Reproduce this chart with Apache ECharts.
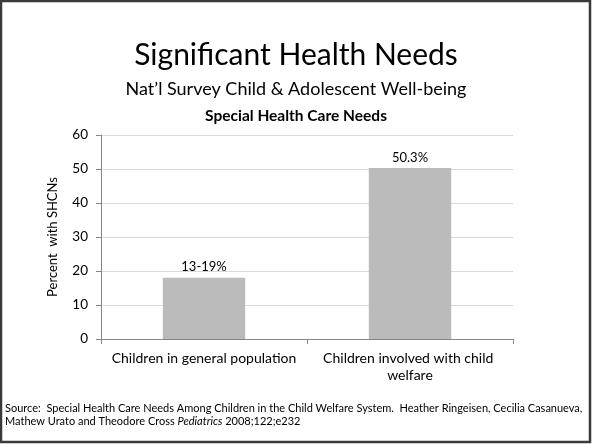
<!DOCTYPE html>
<html>
<head>
<meta charset="utf-8">
<script src="https://cdn.jsdelivr.net/npm/echarts@6/dist/echarts.min.js"></script>
<style>
html,body{margin:0;padding:0;background:#fff;}
#c{width:592px;height:444px;}
</style>
</head>
<body>
<div id="c"></div>
<script>
const categories = ["Children in general population", "Children involved with child welfare"];
const values = [18, 50.3];
const valueLabels = ["13-19%", "50.3%"];
const yTicks = { min: 0, max: 60, interval: 10 };

const FONT = "Lato";
const chart = echarts.init(document.getElementById('c'), null, { renderer: 'canvas' });
chart.setOption({
  animation: false,
  backgroundColor: '#ffffff',
  textStyle: { fontFamily: FONT, color: '#000' },
  title: [
    { text: 'Significant Health Needs', left: 'center', top: 35,
      textStyle: { fontFamily: FONT, fontSize: 30, fontWeight: 'normal', color: '#000' } },
    { text: 'Nat\u2019l Survey Child & Adolescent Well-being', left: 'center', top: 75,
      textStyle: { fontFamily: FONT, fontSize: 18, fontWeight: 'normal', color: '#000' } },
    { text: 'Special Health Care Needs', left: 'center', top: 103,
      textStyle: { fontFamily: FONT, fontSize: 15.5, fontWeight: 'bold', color: '#000' } }
  ],
  grid: { left: 101, right: 79, top: 135, bottom: 105, containLabel: false },
  xAxis: {
    type: 'category',
    data: categories,
    axisLine: { lineStyle: { color: '#868686', width: 1 } },
    axisTick: { show: true, length: 5, lineStyle: { color: '#868686' } },
    axisLabel: { interval: 0, color: '#000', fontFamily: FONT, fontSize: 14, margin: 11,
      width: 190, overflow: 'break', lineHeight: 17 }
  },
  yAxis: {
    type: 'value',
    min: yTicks.min, max: yTicks.max, interval: yTicks.interval,
    name: 'Percent  with SHCNs',
    nameLocation: 'middle', nameGap: 42, nameRotate: 90,
    nameTextStyle: { color: '#000', fontFamily: FONT, fontSize: 13 },
    axisLine: { show: true, lineStyle: { color: '#868686', width: 1 } },
    axisTick: { show: true, length: 5, lineStyle: { color: '#868686' } },
    axisLabel: { color: '#000', fontFamily: FONT, fontSize: 13.5, margin: 13 },
    splitLine: { lineStyle: { color: '#d9d9d9', width: 1 } }
  },
  series: [{
    type: 'bar',
    data: values,
    barCategoryGap: '60%',
    itemStyle: { color: '#bbbbbb' },
    label: { show: true, position: 'top', distance: 4, color: '#000',
      fontFamily: FONT, fontSize: 13,
      formatter: p => valueLabels[p.dataIndex] }
  }],
  graphic: [
    { type: 'rect', shape: { x: 1, y: 1, width: 589, height: 441 },
      style: { fill: 'none', stroke: '#3a3a3a', lineWidth: 2.5 }, silent: true },
    { type: 'text', left: 5, top: 403,
      style: {
        text: '{n|Source:  Special Health Care Needs Among Children in the Child Welfare System.  Heather Ringeisen, Cecilia Casanueva,}\n{n|Mathew Urato and Theodore Cross }{i|Pediatrics}{n| 2008;122;e232}',
        rich: {
          n: { fontFamily: FONT, fontSize: 11, fill: '#000', lineHeight: 13 },
          i: { fontFamily: FONT, fontSize: 11, fontStyle: 'italic', fill: '#000', lineHeight: 13 }
        }
      } }
  ]
});
</script>
</body>
</html>
